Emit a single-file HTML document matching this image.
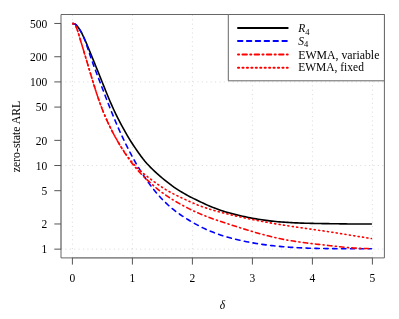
<!DOCTYPE html>
<html lang="en"><head><meta charset="utf-8"><title>zero-state ARL</title>
<style>html,body{margin:0;padding:0;background:#fff}svg{display:block}text{font-family:"Liberation Serif",serif;font-size:11.5px;fill:#000}</style></head><body>
<svg width="399" height="319" viewBox="0 0 399 319">
<rect width="399" height="319" fill="#fff"/>
<path d="M72.40,257.9 V14.5 M132.40,257.9 V14.5 M192.40,257.9 V14.5 M252.40,257.9 V14.5 M312.40,257.9 V14.5 M372.40,257.9 V14.5 M61.0,249.15 H384.4 M61.0,165.53 H384.4 M61.0,81.91 H384.4" fill="none" stroke="#d3d3d3" stroke-width="0.8" stroke-dasharray="1.1 3.3"/>
<g fill="none" stroke-width="1.6" stroke-linecap="round" stroke-linejoin="round">
<path d="M72.80,23.59 L73.26,23.61 L73.72,23.67 L74.18,23.80 L74.64,23.98 L75.11,24.22 L75.57,24.52 L76.03,24.89 L76.49,25.31 L76.95,25.78 L77.41,26.31 L77.87,26.89 L78.33,27.51 L78.79,28.18 L79.25,28.87 L79.72,29.60 L80.18,30.37 L80.64,31.16 L81.10,31.98 L81.56,32.83 L82.02,33.71 L82.48,34.62 L82.94,35.55 L83.40,36.51 L83.86,37.49 L84.33,38.49 L84.79,39.51 L85.25,40.55 L85.71,41.61 L86.17,42.68 L86.63,43.77 L87.09,44.86 L87.55,45.97 L88.01,47.09 L88.47,48.21 L88.94,49.33 L89.40,50.46 L89.86,51.60 L90.32,52.73 L90.78,53.86 L91.24,54.99 L91.70,56.12 L92.16,57.25 L92.62,58.38 L93.08,59.51 L93.55,60.65 L94.01,61.78 L94.47,62.91 L94.93,64.04 L95.39,65.18 L95.85,66.31 L96.31,67.45 L96.77,68.59 L97.23,69.73 L97.69,70.87 L98.16,72.01 L98.62,73.16 L99.08,74.31 L99.54,75.46 L100.00,76.61 L101.95,81.51 L103.91,86.42 L105.86,91.31 L107.81,96.07 L109.76,100.69 L111.72,105.15 L113.67,109.48 L115.62,113.65 L117.57,117.58 L119.53,121.33 L121.48,125.01 L123.43,128.66 L125.38,132.19 L127.34,135.59 L129.29,138.85 L131.24,141.98 L133.19,144.98 L135.15,147.91 L137.10,150.78 L139.05,153.55 L141.00,156.21 L142.96,158.83 L144.91,161.25 L146.86,163.45 L148.81,165.55 L150.77,167.57 L152.72,169.50 L154.67,171.37 L156.62,173.17 L158.58,174.90 L160.53,176.59 L162.48,178.24 L164.43,179.85 L166.39,181.43 L168.34,182.97 L170.29,184.47 L172.24,185.92 L174.20,187.29 L176.15,188.61 L178.10,189.87 L180.05,191.09 L182.01,192.28 L183.96,193.43 L185.91,194.56 L187.86,195.64 L189.82,196.67 L191.77,197.65 L193.72,198.61 L195.67,199.55 L197.63,200.48 L199.58,201.42 L201.53,202.36 L203.48,203.29 L205.44,204.22 L207.39,205.11 L209.34,205.99 L211.29,206.82 L213.25,207.62 L215.20,208.36 L217.15,209.07 L219.10,209.75 L221.06,210.40 L223.01,211.03 L224.96,211.64 L226.91,212.22 L228.87,212.79 L230.82,213.33 L232.77,213.85 L234.72,214.36 L236.68,214.85 L238.63,215.32 L240.58,215.78 L242.53,216.22 L244.49,216.65 L246.44,217.06 L248.39,217.46 L250.34,217.84 L252.30,218.21 L254.25,218.56 L256.20,218.90 L258.15,219.22 L260.11,219.53 L262.06,219.83 L264.01,220.11 L265.96,220.38 L267.92,220.63 L269.87,220.87 L271.82,221.09 L273.77,221.31 L275.73,221.50 L277.68,221.68 L279.63,221.85 L281.58,222.01 L283.54,222.15 L285.49,222.29 L287.44,222.42 L289.39,222.53 L291.35,222.64 L293.30,222.74 L295.25,222.84 L297.20,222.92 L299.16,223.00 L301.11,223.08 L303.06,223.14 L305.01,223.20 L306.97,223.26 L308.92,223.31 L310.87,223.36 L312.82,223.40 L314.78,223.45 L316.73,223.48 L318.68,223.52 L320.63,223.55 L322.59,223.58 L324.54,223.61 L326.49,223.64 L328.44,223.67 L330.40,223.70 L332.35,223.73 L334.30,223.76 L336.25,223.79 L338.21,223.82 L340.16,223.85 L342.11,223.87 L344.06,223.90 L346.02,223.92 L347.97,223.95 L349.92,223.97 L351.87,223.99 L353.83,224.00 L355.78,224.02 L357.73,224.03 L359.68,224.03 L361.64,224.04 L363.59,224.04 L365.54,224.04 L367.49,224.04 L369.45,224.04 L371.40,224.04" stroke="#000"/>
<path d="M72.80,23.59 L73.26,23.61 L73.72,23.68 L74.18,23.81 L74.64,24.00 L75.11,24.25 L75.57,24.56 L76.03,24.93 L76.49,25.36 L76.95,25.85 L77.41,26.38 L77.87,26.96 L78.33,27.58 L78.79,28.22 L79.25,28.89 L79.72,29.59 L80.18,30.31 L80.64,31.07 L81.10,31.86 L81.56,32.70 L82.02,33.58 L82.48,34.51 L82.94,35.49 L83.40,36.54 L83.86,37.64 L84.33,38.78 L84.79,39.98 L85.25,41.21 L85.71,42.48 L86.17,43.78 L86.63,45.10 L87.09,46.45 L87.55,47.81 L88.01,49.18 L88.47,50.56 L88.94,51.94 L89.40,53.31 L89.86,54.68 L90.32,56.03 L90.78,57.37 L91.24,58.69 L91.70,60.01 L92.16,61.30 L92.62,62.59 L93.08,63.87 L93.55,65.14 L94.01,66.39 L94.47,67.64 L94.93,68.88 L95.39,70.11 L95.85,71.34 L96.31,72.56 L96.77,73.78 L97.23,74.99 L97.69,76.20 L98.16,77.40 L98.62,78.60 L99.08,79.80 L99.54,81.00 L100.00,82.20 L101.95,87.29 L103.91,92.38 L105.86,97.43 L107.81,102.45 L109.76,107.41 L111.72,112.29 L113.67,117.08 L115.62,121.75 L117.57,126.30 L119.53,130.73 L121.48,135.03 L123.43,139.21 L125.38,143.27 L127.34,147.21 L129.29,151.03 L131.24,154.73 L133.19,158.32 L135.15,161.80 L137.10,165.16 L139.05,168.42 L141.00,171.56 L142.96,174.60 L144.91,177.53 L146.86,180.37 L148.81,183.10 L150.77,185.73 L152.72,188.27 L154.67,190.72 L156.62,193.07 L158.58,195.34 L160.53,197.52 L162.48,199.59 L164.43,201.57 L166.39,203.45 L168.34,205.24 L170.29,206.96 L172.24,208.60 L174.20,210.18 L176.15,211.69 L178.10,213.13 L180.05,214.50 L182.01,215.82 L183.96,217.09 L185.91,218.32 L187.86,219.54 L189.82,220.73 L191.77,221.88 L193.72,223.00 L195.67,224.09 L197.63,225.13 L199.58,226.15 L201.53,227.15 L203.48,228.11 L205.44,229.05 L207.39,229.94 L209.34,230.79 L211.29,231.59 L213.25,232.36 L215.20,233.11 L217.15,233.82 L219.10,234.51 L221.06,235.17 L223.01,235.80 L224.96,236.40 L226.91,236.98 L228.87,237.53 L230.82,238.06 L232.77,238.56 L234.72,239.05 L236.68,239.53 L238.63,239.98 L240.58,240.43 L242.53,240.85 L244.49,241.27 L246.44,241.66 L248.39,242.04 L250.34,242.41 L252.30,242.77 L254.25,243.11 L256.20,243.43 L258.15,243.75 L260.11,244.05 L262.06,244.34 L264.01,244.61 L265.96,244.88 L267.92,245.13 L269.87,245.37 L271.82,245.60 L273.77,245.82 L275.73,246.02 L277.68,246.22 L279.63,246.41 L281.58,246.59 L283.54,246.75 L285.49,246.91 L287.44,247.06 L289.39,247.20 L291.35,247.33 L293.30,247.45 L295.25,247.57 L297.20,247.68 L299.16,247.78 L301.11,247.87 L303.06,247.96 L305.01,248.04 L306.97,248.11 L308.92,248.18 L310.87,248.24 L312.82,248.30 L314.78,248.35 L316.73,248.40 L318.68,248.44 L320.63,248.48 L322.59,248.52 L324.54,248.55 L326.49,248.58 L328.44,248.61 L330.40,248.63 L332.35,248.65 L334.30,248.67 L336.25,248.68 L338.21,248.70 L340.16,248.71 L342.11,248.72 L344.06,248.73 L346.02,248.74 L347.97,248.75 L349.92,248.75 L351.87,248.76 L353.83,248.76 L355.78,248.77 L357.73,248.77 L359.68,248.77 L361.64,248.78 L363.59,248.78 L365.54,248.78 L367.49,248.79 L369.45,248.79 L371.40,248.80" stroke="#0000ff" stroke-dasharray="4.44 4.44"/>
<path d="M72.80,23.63 L73.26,23.63 L73.72,23.75 L74.18,24.02 L74.64,24.44 L75.11,25.02 L75.57,25.75 L76.03,26.64 L76.49,27.70 L76.95,28.89 L77.41,30.21 L77.87,31.61 L78.33,33.07 L78.79,34.57 L79.25,36.09 L79.72,37.61 L80.18,39.13 L80.64,40.65 L81.10,42.18 L81.56,43.70 L82.02,45.24 L82.48,46.77 L82.94,48.31 L83.40,49.85 L83.86,51.39 L84.33,52.93 L84.79,54.48 L85.25,56.03 L85.71,57.58 L86.17,59.13 L86.63,60.68 L87.09,62.24 L87.55,63.79 L88.01,65.34 L88.47,66.88 L88.94,68.43 L89.40,69.97 L89.86,71.51 L90.32,73.05 L90.78,74.58 L91.24,76.11 L91.70,77.64 L92.16,79.15 L92.62,80.66 L93.08,82.16 L93.55,83.65 L94.01,85.14 L94.47,86.61 L94.93,88.07 L95.39,89.52 L95.85,90.96 L96.31,92.38 L96.77,93.79 L97.23,95.19 L97.69,96.57 L98.16,97.93 L98.62,99.28 L99.08,100.61 L99.54,101.92 L100.00,103.21 L101.95,108.45 L103.91,113.37 L105.86,117.98 L107.81,122.33 L109.76,126.44 L111.72,130.35 L113.67,134.09 L115.62,137.68 L117.57,141.15 L119.53,144.51 L121.48,147.75 L123.43,150.87 L125.38,153.87 L127.34,156.76 L129.29,159.53 L131.24,162.19 L133.19,164.73 L135.15,167.16 L137.10,169.48 L139.05,171.69 L141.00,173.80 L142.96,175.82 L144.91,177.76 L146.86,179.61 L148.81,181.39 L150.77,183.11 L152.72,184.84 L154.67,186.57 L156.62,188.26 L158.58,189.87 L160.53,191.37 L162.48,192.80 L164.43,194.18 L166.39,195.54 L168.34,196.85 L170.29,198.14 L172.24,199.38 L174.20,200.56 L176.15,201.71 L178.10,202.83 L180.05,203.91 L182.01,204.98 L183.96,206.04 L185.91,207.09 L187.86,208.12 L189.82,209.11 L191.77,210.07 L193.72,211.00 L195.67,211.90 L197.63,212.77 L199.58,213.62 L201.53,214.44 L203.48,215.23 L205.44,216.01 L207.39,216.76 L209.34,217.50 L211.29,218.21 L213.25,218.92 L215.20,219.60 L217.15,220.28 L219.10,220.94 L221.06,221.60 L223.01,222.25 L224.96,222.89 L226.91,223.52 L228.87,224.15 L230.82,224.78 L232.77,225.41 L234.72,226.04 L236.68,226.66 L238.63,227.29 L240.58,227.90 L242.53,228.52 L244.49,229.13 L246.44,229.73 L248.39,230.33 L250.34,230.92 L252.30,231.50 L254.25,232.08 L256.20,232.65 L258.15,233.20 L260.11,233.75 L262.06,234.29 L264.01,234.82 L265.96,235.33 L267.92,235.84 L269.87,236.33 L271.82,236.81 L273.77,237.27 L275.73,237.72 L277.68,238.15 L279.63,238.57 L281.58,238.98 L283.54,239.36 L285.49,239.73 L287.44,240.09 L289.39,240.43 L291.35,240.76 L293.30,241.08 L295.25,241.39 L297.20,241.68 L299.16,241.97 L301.11,242.24 L303.06,242.51 L305.01,242.77 L306.97,243.02 L308.92,243.26 L310.87,243.50 L312.82,243.74 L314.78,243.97 L316.73,244.19 L318.68,244.41 L320.63,244.63 L322.59,244.85 L324.54,245.07 L326.49,245.29 L328.44,245.51 L330.40,245.73 L332.35,245.95 L334.30,246.17 L336.25,246.39 L338.21,246.60 L340.16,246.81 L342.11,247.02 L344.06,247.22 L346.02,247.40 L347.97,247.58 L349.92,247.75 L351.87,247.90 L353.83,248.03 L355.78,248.15 L357.73,248.25 L359.68,248.34 L361.64,248.39 L363.59,248.43 L365.54,248.44 L367.49,248.44 L369.45,248.44 L371.40,248.44" stroke="#ff0000" stroke-dasharray="1.11 3.33 4.44 3.33"/>
<path d="M72.80,23.63 L73.26,23.63 L73.72,23.75 L74.18,24.02 L74.64,24.44 L75.11,25.02 L75.57,25.75 L76.03,26.64 L76.49,27.70 L76.95,28.89 L77.41,30.21 L77.87,31.61 L78.33,33.07 L78.79,34.57 L79.25,36.09 L79.72,37.61 L80.18,39.13 L80.64,40.65 L81.10,42.18 L81.56,43.71 L82.02,45.24 L82.48,46.77 L82.94,48.31 L83.40,49.85 L83.86,51.39 L84.33,52.93 L84.79,54.48 L85.25,56.03 L85.71,57.58 L86.17,59.13 L86.63,60.68 L87.09,62.23 L87.55,63.78 L88.01,65.33 L88.47,66.88 L88.94,68.43 L89.40,69.97 L89.86,71.51 L90.32,73.05 L90.78,74.58 L91.24,76.11 L91.70,77.63 L92.16,79.15 L92.62,80.65 L93.08,82.16 L93.55,83.65 L94.01,85.13 L94.47,86.61 L94.93,88.07 L95.39,89.52 L95.85,90.96 L96.31,92.38 L96.77,93.79 L97.23,95.19 L97.69,96.57 L98.16,97.93 L98.62,99.28 L99.08,100.61 L99.54,101.92 L100.00,103.21 L101.95,108.47 L103.91,113.39 L105.86,118.01 L107.81,122.35 L109.76,126.46 L111.72,130.35 L113.67,134.06 L115.62,137.61 L117.57,141.03 L119.53,144.32 L121.48,147.47 L123.43,150.48 L125.38,153.36 L127.34,156.10 L129.29,158.70 L131.24,161.16 L133.19,163.49 L135.15,165.67 L137.10,167.72 L139.05,169.64 L141.00,171.44 L142.96,173.13 L144.91,174.73 L146.86,176.24 L148.81,177.72 L150.77,179.20 L152.72,180.68 L154.67,182.11 L156.62,183.51 L158.58,184.93 L160.53,186.27 L162.48,187.52 L164.43,188.75 L166.39,189.95 L168.34,191.13 L170.29,192.23 L172.24,193.27 L174.20,194.29 L176.15,195.24 L178.10,196.17 L180.05,197.11 L182.01,198.04 L183.96,198.94 L185.91,199.83 L187.86,200.72 L189.82,201.60 L191.77,202.48 L193.72,203.33 L195.67,204.14 L197.63,204.92 L199.58,205.67 L201.53,206.40 L203.48,207.09 L205.44,207.76 L207.39,208.41 L209.34,209.03 L211.29,209.63 L213.25,210.21 L215.20,210.78 L217.15,211.32 L219.10,211.85 L221.06,212.37 L223.01,212.87 L224.96,213.36 L226.91,213.84 L228.87,214.31 L230.82,214.78 L232.77,215.24 L234.72,215.69 L236.68,216.14 L238.63,216.58 L240.58,217.01 L242.53,217.44 L244.49,217.86 L246.44,218.28 L248.39,218.69 L250.34,219.09 L252.30,219.49 L254.25,219.89 L256.20,220.27 L258.15,220.66 L260.11,221.03 L262.06,221.40 L264.01,221.77 L265.96,222.13 L267.92,222.48 L269.87,222.83 L271.82,223.17 L273.77,223.51 L275.73,223.84 L277.68,224.17 L279.63,224.49 L281.58,224.81 L283.54,225.12 L285.49,225.43 L287.44,225.73 L289.39,226.03 L291.35,226.33 L293.30,226.62 L295.25,226.91 L297.20,227.20 L299.16,227.48 L301.11,227.76 L303.06,228.05 L305.01,228.33 L306.97,228.61 L308.92,228.89 L310.87,229.16 L312.82,229.44 L314.78,229.72 L316.73,230.00 L318.68,230.29 L320.63,230.57 L322.59,230.85 L324.54,231.14 L326.49,231.43 L328.44,231.72 L330.40,232.02 L332.35,232.32 L334.30,232.62 L336.25,232.93 L338.21,233.23 L340.16,233.54 L342.11,233.85 L344.06,234.17 L346.02,234.48 L347.97,234.80 L349.92,235.11 L351.87,235.43 L353.83,235.75 L355.78,236.07 L357.73,236.38 L359.68,236.70 L361.64,237.01 L363.59,237.32 L365.54,237.64 L367.49,237.95 L369.45,238.25 L371.40,238.56" stroke="#ff0000" stroke-dasharray="1.11 3.33"/>
</g>
<rect x="61.0" y="14.5" width="323.4" height="243.39999999999998" fill="none" stroke="#666" stroke-width="1" stroke-linejoin="round"/>
<path d="M72.40,257.9 H372.40 M61.0,249.15 V23.46" fill="none" stroke="#666" stroke-width="1" stroke-opacity="0.55"/>
<path d="M72.40,257.9 v6.7 M132.40,257.9 v6.7 M192.40,257.9 v6.7 M252.40,257.9 v6.7 M312.40,257.9 v6.7 M372.40,257.9 v6.7 M61.0,23.46 h-6.7 M61.0,56.74 h-6.7 M61.0,81.91 h-6.7 M61.0,107.08 h-6.7 M61.0,140.36 h-6.7 M61.0,165.53 h-6.7 M61.0,190.70 h-6.7 M61.0,223.98 h-6.7 M61.0,249.15 h-6.7" fill="none" stroke="#555" stroke-width="1"/>
<text x="72.40" y="282" text-anchor="middle" font-size="11.2">0</text>
<text x="132.40" y="282" text-anchor="middle" font-size="11.2">1</text>
<text x="192.40" y="282" text-anchor="middle" font-size="11.2">2</text>
<text x="252.40" y="282" text-anchor="middle" font-size="11.2">3</text>
<text x="312.40" y="282" text-anchor="middle" font-size="11.2">4</text>
<text x="372.40" y="282" text-anchor="middle" font-size="11.2">5</text>
<text x="47.3" y="27.66" text-anchor="end" font-size="11.2">500</text>
<text x="47.3" y="60.94" text-anchor="end" font-size="11.2">200</text>
<text x="47.3" y="86.11" text-anchor="end" font-size="11.2">100</text>
<text x="47.3" y="111.28" text-anchor="end" font-size="11.2">50</text>
<text x="47.3" y="144.56" text-anchor="end" font-size="11.2">20</text>
<text x="47.3" y="169.73" text-anchor="end" font-size="11.2">10</text>
<text x="47.3" y="194.90" text-anchor="end" font-size="11.2">5</text>
<text x="47.3" y="228.18" text-anchor="end" font-size="11.2">2</text>
<text x="47.3" y="253.35" text-anchor="end" font-size="11.2">1</text>
<text transform="translate(19.6,172.3) rotate(-90)" textLength="71.6" lengthAdjust="spacingAndGlyphs">zero-state ARL</text>
<text x="222.4" y="309" text-anchor="middle" font-style="italic">δ</text>
<rect x="228.3" y="14.5" width="156.09999999999997" height="66.3" fill="#fff" stroke="#666" stroke-width="1" stroke-linejoin="round"/>
<g fill="none" stroke-width="2" stroke-linecap="round">
<path d="M238,27.9 H287.7" stroke="#000"/>
<path d="M238,41.1 H287.7" stroke="#0000ff" stroke-dasharray="4.44 4.44"/>
<path d="M238,54.4 H287.7" stroke="#ff0000" stroke-dasharray="1.11 3.33 4.44 3.33"/>
<path d="M238,67.7 H287.7" stroke="#ff0000" stroke-dasharray="1.11 3.33"/>
</g>
<text x="298.2" y="32.3"><tspan font-style="italic">R</tspan><tspan font-size="8.5px" dy="2.2">4</tspan></text>
<text x="298.2" y="44.7"><tspan font-style="italic">S</tspan><tspan font-size="8.5px" dy="2.2">4</tspan></text>
<text x="298.2" y="59.3" textLength="81.2" lengthAdjust="spacingAndGlyphs">EWMA, variable</text>
<text x="298.2" y="71.4" textLength="65.7" lengthAdjust="spacingAndGlyphs">EWMA, fixed</text>
</svg></body></html>
